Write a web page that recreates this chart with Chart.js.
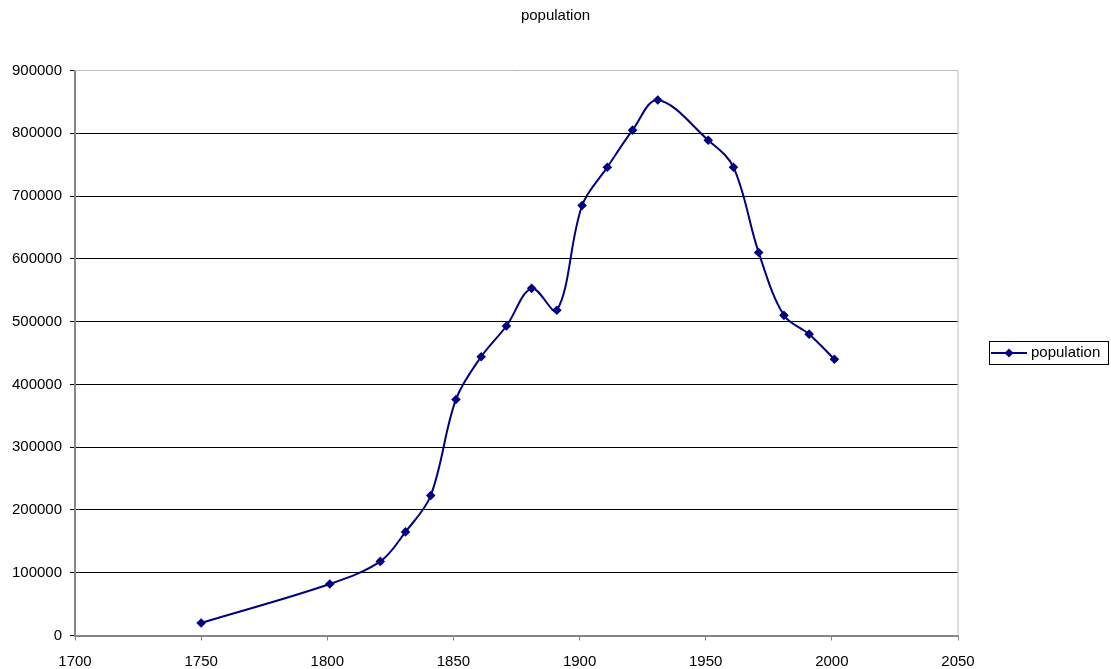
<!DOCTYPE html>
<html lang="en">
<head>
    <meta charset="UTF-8">
    <title>population</title>
    <script src="https://cdn.jsdelivr.net/npm/chart.js"></script>
    <style>
        body {
            margin: 0;
            padding: 0;
            background-color: #ffffff;
        }
        .chart-container {
            width: 1111px;
            height: 669px;
        }
    </style>
</head>
<body>

<div class="chart-container">
    <canvas id="grafico" width="1111" height="669"></canvas>
</div>

<script>
// dados
var anos = [1750, 1801, 1821, 1831, 1841, 1851, 1861, 1871, 1881, 1891, 1901, 1911, 1921, 1931, 1951, 1961, 1971, 1981, 1991, 2001];
var populacao = [20000, 82000, 118000, 165000, 223000, 376000, 444000, 493000, 553000, 518000, 685000, 746000, 805000, 853000, 789000, 746000, 610000, 510000, 480000, 440000];
var ticksX = [1700, 1750, 1800, 1850, 1900, 1950, 2000, 2050];
var ticksY = [0, 100000, 200000, 300000, 400000, 500000, 600000, 700000, 800000, 900000];
var titulo = 'population';

var cor = '#000080';
var fonte = { family: 'Arial, "Liberation Sans", sans-serif', size: 15 };

var pontos = anos.map(function (a, i) { return { x: a, y: populacao[i] }; });

// título centrado na tela, borda da área do gráfico e legenda com caixa
var extras = {
    id: 'extras',
    beforeDatasetsDraw: function (chart) {
        var ctx = chart.ctx, a = chart.chartArea;
        ctx.save();
        ctx.strokeStyle = '#c0c0c0';
        ctx.lineWidth = 1;
        ctx.beginPath();
        ctx.moveTo(a.left, a.top);
        ctx.lineTo(a.right, a.top);
        ctx.lineTo(a.right, a.bottom);
        ctx.stroke();
        ctx.restore();
    },
    afterDraw: function (chart) {
        var ctx = chart.ctx;
        ctx.save();
        ctx.fillStyle = '#000000';
        ctx.font = fonte.size + 'px ' + fonte.family;
        ctx.textBaseline = 'middle';
        ctx.textAlign = 'center';
        ctx.fillText(titulo, chart.width / 2, 16);

        ctx.strokeStyle = '#000000';
        ctx.lineWidth = 1;
        ctx.strokeRect(989.5, 341.5, 119, 23);
        ctx.strokeStyle = cor;
        ctx.lineWidth = 2;
        ctx.beginPath();
        ctx.moveTo(991, 353);
        ctx.lineTo(1027, 353);
        ctx.stroke();
        ctx.fillStyle = cor;
        ctx.beginPath();
        ctx.moveTo(1009, 348.5);
        ctx.lineTo(1013.5, 353);
        ctx.lineTo(1009, 357.5);
        ctx.lineTo(1004.5, 353);
        ctx.closePath();
        ctx.fill();
        ctx.fillStyle = '#000000';
        ctx.textAlign = 'left';
        ctx.fillText('population', 1031, 353);
        ctx.restore();
    }
};

new Chart(document.getElementById('grafico').getContext('2d'), {
    type: 'scatter',
    data: {
        datasets: [{
            label: 'population',
            data: pontos,
            showLine: true,
            tension: 0.35,
            borderColor: cor,
            borderWidth: 2,
            backgroundColor: cor,
            pointStyle: 'rectRot',
            pointRadius: 4.8,
            pointBorderWidth: 0,
            pointBackgroundColor: cor
        }]
    },
    options: {
        responsive: false,
        animation: false,
        layout: { padding: { left: 0, right: 153, top: 70.5, bottom: 0 } },
        plugins: {
            legend: { display: false },
            tooltip: { enabled: false },
            title: { display: false }
        },
        scales: {
            x: {
                type: 'linear',
                min: 1700,
                max: 2050,
                afterBuildTicks: function (s) { s.ticks = ticksX.map(function (v) { return { value: v }; }); },
                afterFit: function (s) { s.height = 33.5; },
                ticks: {
                    color: '#000000',
                    font: fonte,
                    padding: 12,
                    maxRotation: 0,
                    callback: function (v) { return String(v); }
                },
                grid: { drawOnChartArea: false, drawTicks: true, tickLength: 5, color: '#868686' },
                border: { color: '#868686', width: 2 }
            },
            y: {
                min: 0,
                max: 900000,
                afterBuildTicks: function (s) { s.ticks = ticksY.map(function (v) { return { value: v }; }); },
                afterFit: function (s) { s.width = 75; },
                ticks: {
                    color: '#000000',
                    font: fonte,
                    padding: 8,
                    callback: function (v) { return String(v); }
                },
                grid: { color: '#000000', lineWidth: 1, tickLength: 5 },
                border: { color: '#868686', width: 2 }
            }
        }
    },
    plugins: [extras]
});
</script>

</body>
</html>
